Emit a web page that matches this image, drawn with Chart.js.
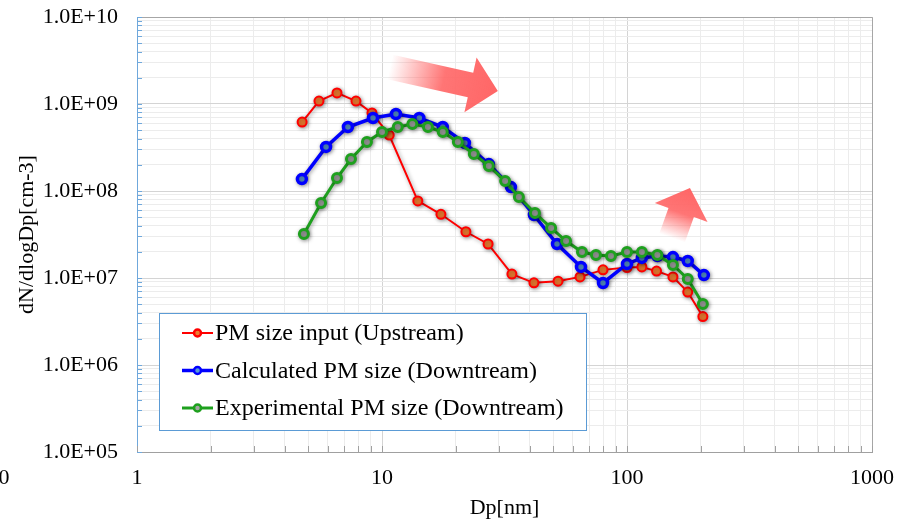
<!DOCTYPE html>
<html>
<head>
<meta charset="utf-8">
<title>PM size distribution</title>
<script src="https://cdn.jsdelivr.net/npm/chart.js@4.4.1/dist/chart.umd.min.js"></script>
<style>
  html, body { margin: 0; padding: 0; background: #fff; }
  #wrap { width: 907px; height: 519px; position: relative; }
</style>
</head>
<body>
<div id="wrap"><canvas id="chart" width="907" height="519"></canvas></div>
<script>
// particle diameter Dp [nm] and number concentration dN/dlogDp [cm-3]
const upstreamDp = [4.72, 5.53, 6.55, 7.83, 9.10, 10.7, 14.0, 17.4, 22.0, 27.1, 33.9, 41.7, 52.3, 64.3, 79.8, 100, 115, 132, 154, 177, 204];
const upstreamN = [6.2e8, 1.08e9, 1.34e9, 1.08e9, 7.9e8, 4.4e8, 7.7e7, 5.4e7, 3.4e7, 2.46e7, 1.11e7, 8.8e6, 9.2e6, 1.03e7, 1.24e7, 1.32e7, 1.34e7, 1.2e7, 1.03e7, 6.9e6, 3.6e6];

const calcDp = [4.71, 5.91, 7.26, 9.19, 11.4, 14.2, 17.7, 21.8, 27.3, 33.6, 41.7, 51.8, 64.9, 79.8, 100, 115, 133, 154, 177, 206];
const calcN = [1.37e8, 3.21e8, 5.44e8, 6.9e8, 7.68e8, 6.9e8, 5.44e8, 3.56e8, 2.04e8, 1.11e8, 5.3e7, 2.46e7, 1.34e7, 8.77e6, 1.45e7, 1.7e7, 1.79e7, 1.74e7, 1.57e7, 1.08e7];

const expDp = [4.80, 5.64, 6.55, 7.47, 8.68, 10.0, 11.6, 13.3, 15.4, 17.7, 20.4, 23.7, 27.3, 31.8, 36.2, 42.1, 49.0, 56.4, 65.5, 74.7, 86.0, 100, 115, 133, 154, 177, 204];
const expN = [3.21e7, 7.28e7, 1.41e8, 2.33e8, 3.66e8, 4.77e8, 5.44e8, 5.89e8, 5.44e8, 4.77e8, 3.66e8, 2.66e8, 1.94e8, 1.30e8, 8.53e7, 5.59e7, 3.76e7, 2.66e7, 1.99e7, 1.84e7, 1.79e7, 1.99e7, 1.99e7, 1.84e7, 1.41e7, 9.75e6, 5.02e6];

const seriesNames = ['PM size input (Upstream)', 'Calculated PM size (Downtream)', 'Experimental PM size (Downtream)'];
const xTickLabels = ['1', '10', '100', '1000'];
const yTickLabels = ['1.0E+05', '1.0E+06', '1.0E+07', '1.0E+08', '1.0E+09', '1.0E+10'];

const serif = '"Liberation Serif", "Times New Roman", serif';

function toPoints(xs, ys) {
    return xs.map((x, i) => ({ x: x, y: ys[i] }));
}

// 1..9 x 10^n ticks, decades flagged as major
function logTicks(scale) {
    const ticks = [];
    for (let e = Math.floor(Math.log10(scale.min)); e <= Math.ceil(Math.log10(scale.max)); e++) {
        for (let m = 1; m <= 9; m++) {
            const v = m * Math.pow(10, e);
            if (v >= scale.min - 1e-9 && v <= scale.max * (1 + 1e-9)) {
                ticks.push({ value: v, major: m === 1 });
            }
        }
    }
    scale.ticks = ticks;
}

function decadeLabel(labels, firstExp) {
    return function (value) {
        const e = Math.log10(value);
        if (Math.abs(e - Math.round(e)) > 1e-6) return '';
        return labels[Math.round(e) - firstExp] || '';
    };
}

function gridColor(ctx) {
    return ctx.tick && ctx.tick.major ? '#d4d4d4' : '#ececec';
}

// red block arrows, given in data space
const arrows = [
    { from: [10.78, 2.66e9], to: [29.7, 1.41e9], shaft: 25, headW: 56, headL: 28 },
    { from: [152.7, 2.88e7], to: [180.7, 1.08e8], shaft: 27, headW: 56, headL: 26 }
];

function drawArrow(ctx, x0, y0, x1, y1, a) {
    const L = Math.hypot(x1 - x0, y1 - y0);
    ctx.save();
    ctx.translate(x0, y0);
    ctx.rotate(Math.atan2(y1 - y0, x1 - x0));
    const g = ctx.createLinearGradient(0, 0, L, 0);
    g.addColorStop(0, 'rgba(255,102,102,0)');
    g.addColorStop(0.5, 'rgba(255,102,102,0.9)');
    g.addColorStop(1, 'rgba(255,102,102,1)');
    ctx.fillStyle = g;
    ctx.beginPath();
    ctx.moveTo(0, -a.shaft / 2);
    ctx.lineTo(L - a.headL, -a.shaft / 2);
    ctx.lineTo(L - a.headL, -a.headW / 2);
    ctx.lineTo(L, 0);
    ctx.lineTo(L - a.headL, a.headW / 2);
    ctx.lineTo(L - a.headL, a.shaft / 2);
    ctx.lineTo(0, a.shaft / 2);
    ctx.closePath();
    ctx.fill();
    ctx.restore();
}

const decor = {
    id: 'decor',
    beforeDatasetDraw(chart) {
        const c = chart.ctx;
        c.save();
        c.shadowColor = 'rgba(0,0,0,0.4)';
        c.shadowBlur = 4;
        c.shadowOffsetX = 1;
        c.shadowOffsetY = 1;
    },
    afterDatasetDraw(chart) {
        chart.ctx.restore();
    },
    afterDraw(chart) {
        const c = chart.ctx;
        const area = chart.chartArea;
        const xs = chart.scales.x;
        const ys = chart.scales.y;

        c.save();
        // frame top / right
        c.strokeStyle = '#a6a6a6';
        c.lineWidth = 1;
        c.beginPath();
        c.moveTo(area.left, area.top + 0.5);
        c.lineTo(area.right + 0.5, area.top + 0.5);
        c.lineTo(area.right + 0.5, area.bottom);
        c.stroke();

        // inside tick marks
        c.strokeStyle = '#6fa8dc';
        c.beginPath();
        ys.ticks.forEach(t => {
            const py = Math.round(ys.getPixelForValue(t.value)) + 0.5;
            c.moveTo(area.left, py);
            c.lineTo(area.left + 5, py);
        });
        c.stroke();
        c.strokeStyle = '#a0a0a0';
        c.beginPath();
        xs.ticks.forEach(t => {
            const px = Math.round(xs.getPixelForValue(t.value)) + 0.5;
            c.moveTo(px, area.bottom);
            c.lineTo(px, area.bottom - 6);
        });
        c.stroke();

        // stray "0" at the far left of the x labels
        c.fillStyle = '#000';
        c.font = '22px ' + serif;
        c.textAlign = 'center';
        c.textBaseline = 'middle';
        c.fillText('0', 4, 478);

        arrows.forEach(a => {
            drawArrow(c,
                xs.getPixelForValue(a.from[0]), ys.getPixelForValue(a.from[1]),
                xs.getPixelForValue(a.to[0]), ys.getPixelForValue(a.to[1]), a);
        });

        // legend box
        const box = { x: 159.5, y: 313.5, w: 427, h: 117 };
        c.fillStyle = '#fff';
        c.fillRect(box.x, box.y, box.w, box.h);
        c.strokeStyle = '#5b9bd5';
        c.strokeRect(box.x, box.y, box.w, box.h);
        c.font = '24px ' + serif;
        c.textAlign = 'left';
        chart.data.datasets.forEach((ds, i) => {
            const cy = 333 + i * 37.5;
            c.strokeStyle = ds.borderColor;
            c.lineWidth = ds.borderWidth;
            c.beginPath();
            c.moveTo(182, cy);
            c.lineTo(213, cy);
            c.stroke();
            c.beginPath();
            c.arc(197.5, cy, 3.5, 0, Math.PI * 2);
            c.fillStyle = ds.pointBackgroundColor;
            c.fill();
            c.lineWidth = 2.5;
            c.stroke();
            c.fillStyle = '#000';
            c.fillText(ds.label, 215, cy + 1);
        });
        c.restore();
    }
};

const ctx = document.getElementById('chart').getContext('2d');
new Chart(ctx, {
    type: 'line',
    data: {
        datasets: [
            {
                label: seriesNames[0],
                data: toPoints(upstreamDp, upstreamN),
                borderColor: '#ff0000',
                borderWidth: 2,
                pointBackgroundColor: 'rgb(237,125,49)',
                pointBorderColor: '#ff0000',
                order: 3
            },
            {
                label: seriesNames[1],
                data: toPoints(calcDp, calcN),
                borderColor: '#0000ff',
                borderWidth: 3.5,
                pointBackgroundColor: 'rgb(91,155,213)',
                pointBorderColor: '#0000ff',
                order: 2
            },
            {
                label: seriesNames[2],
                data: toPoints(expDp, expN),
                borderColor: 'rgb(30,160,30)',
                borderWidth: 3,
                pointBackgroundColor: 'rgb(165,165,165)',
                pointBorderColor: 'rgb(30,160,30)',
                order: 1
            }
        ]
    },
    options: {
        responsive: false,
        animation: false,
        devicePixelRatio: 1,
        layout: { padding: { top: 17, right: 35, left: 0, bottom: 0 } },
        elements: {
            line: { tension: 0, fill: false },
            point: { radius: 4.5, borderWidth: 3, hoverRadius: 4.5 }
        },
        plugins: {
            legend: { display: false },
            tooltip: { enabled: false }
        },
        scales: {
            x: {
                type: 'logarithmic',
                position: 'bottom',
                min: 1,
                max: 1000,
                afterBuildTicks: logTicks,
                afterFit: s => {
                    s.height = 67;
                    s.paddingLeft = 0;
                    s.paddingRight = 0;
                },
                ticks: {
                    callback: decadeLabel(xTickLabels, 0),
                    autoSkip: false,
                    maxRotation: 0,
                    padding: 13,
                    color: '#000',
                    font: { family: serif, size: 22 }
                },
                grid: { color: gridColor, drawTicks: false },
                border: { color: '#a0a0a0', width: 1 },
                title: {
                    display: true,
                    text: 'Dp[nm]',
                    color: '#000',
                    font: { family: serif, size: 22, lineHeight: 1 },
                    padding: { top: 0, bottom: 0 }
                }
            },
            y: {
                type: 'logarithmic',
                min: 1e5,
                max: 1e10,
                afterBuildTicks: logTicks,
                afterFit: s => {
                    s.width = 137;
                    s.paddingTop = 0;
                    s.paddingBottom = 0;
                },
                ticks: {
                    callback: decadeLabel(yTickLabels, 5),
                    autoSkip: false,
                    padding: 19,
                    color: '#000',
                    font: { family: serif, size: 22 }
                },
                grid: { color: gridColor, drawTicks: false },
                border: { color: '#6fa8dc', width: 1 },
                title: {
                    display: true,
                    text: 'dN/dlogDp[cm-3]',
                    color: '#000',
                    font: { family: serif, size: 22, lineHeight: 1 },
                    padding: { top: 16, bottom: 0 }
                }
            }
        }
    },
    plugins: [decor]
});
</script>
</body>
</html>
